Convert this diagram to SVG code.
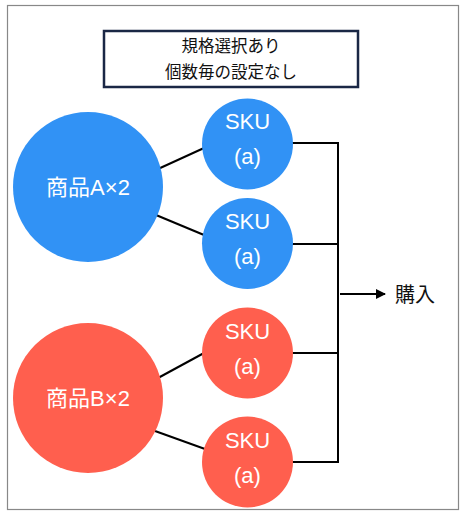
<svg xmlns="http://www.w3.org/2000/svg" width="465" height="516" viewBox="0 0 465 516">
<defs>
<marker id="arr" markerWidth="10" markerHeight="10" refX="9" refY="5" orient="auto" markerUnits="userSpaceOnUse"><path d="M0,0 L10,5 L0,10 Z" fill="#000"/></marker>
<style>
.frame{fill:#fff;stroke:#888;stroke-width:1.2}
.blue{fill:#3192F5}
.red{fill:#FF5F4E}
.ct{font-family:"Liberation Sans","Noto Sans CJK JP",sans-serif;font-size:22px;fill:#fff;text-anchor:middle}
.lt{font-family:"Liberation Sans","Noto Sans CJK JP",sans-serif;font-size:16.5px;fill:#111;text-anchor:middle}
.edge{stroke:#000;stroke-width:2;fill:none}
</style>
</defs>
<rect class="frame" x="7.5" y="5.5" width="451" height="504"/>
<g id="note">
<rect x="104" y="31" width="254" height="56" fill="#fff" stroke="#1a2745" stroke-width="2.5"/>
<text class="lt" x="231" y="52">規格選択あり</text>
<text class="lt" x="231" y="78">個数毎の設定なし</text>
</g>
<g id="connectors">
<line class="edge" x1="158" y1="169" x2="204" y2="148"/>
<line class="edge" x1="156" y1="215" x2="204" y2="235"/>
<line class="edge" x1="158" y1="378" x2="204" y2="353"/>
<line class="edge" x1="155" y1="431" x2="205" y2="449"/>
<path class="edge" d="M292,143 H338 V462 H292 M292,244 H338 M292,353 H338"/>
<line class="edge" x1="340" y1="294" x2="385" y2="294" marker-end="url(#arr)"/>
</g>
<g id="productA">
<circle class="blue" cx="88" cy="187" r="75"/>
<text class="ct" x="88" y="195">商品A×2</text>
</g>
<g id="skuA1">
<circle class="blue" cx="247.5" cy="144" r="45.5"/>
<text class="ct" x="247.5" y="129">SKU</text>
<text class="ct" x="247.5" y="164">(a)</text>
</g>
<g id="skuA2">
<circle class="blue" cx="247.5" cy="243.5" r="45.5"/>
<text class="ct" x="247.5" y="229">SKU</text>
<text class="ct" x="247.5" y="264">(a)</text>
</g>
<g id="productB">
<circle class="red" cx="88" cy="398" r="75"/>
<text class="ct" x="88" y="406">商品B×2</text>
</g>
<g id="skuB1">
<circle class="red" cx="247.5" cy="353" r="45.5"/>
<text class="ct" x="247.5" y="339">SKU</text>
<text class="ct" x="247.5" y="374">(a)</text>
</g>
<g id="skuB2">
<circle class="red" cx="247.5" cy="462" r="45.5"/>
<text class="ct" x="247.5" y="448">SKU</text>
<text class="ct" x="247.5" y="483">(a)</text>
</g>
<g id="purchase">
<text x="395" y="302" font-family="'Noto Sans CJK JP',sans-serif" font-size="20" fill="#111">購入</text>
</g>
</svg>
